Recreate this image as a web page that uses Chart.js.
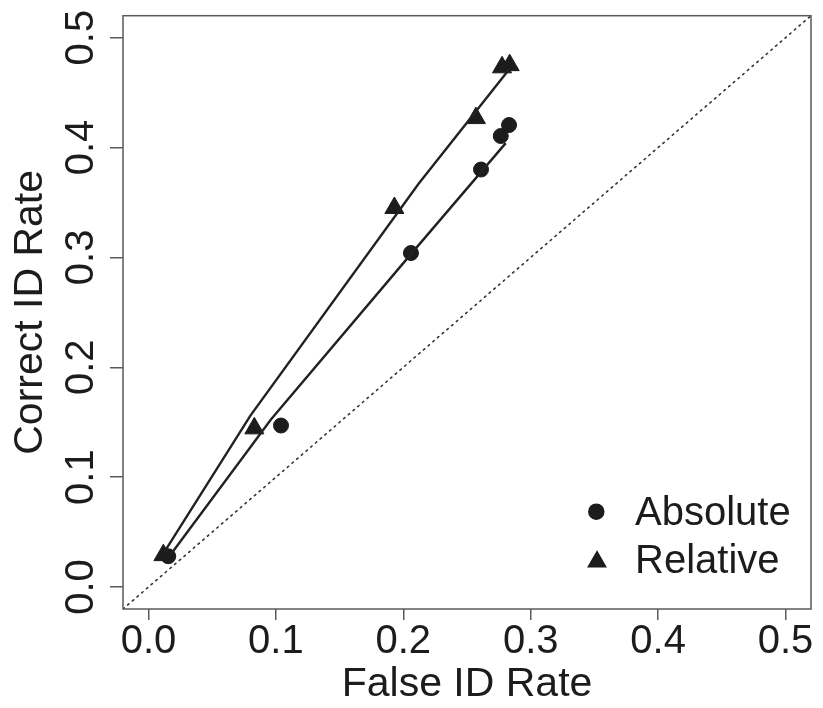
<!DOCTYPE html>
<html>
<head>
<meta charset="utf-8">
<style>
  html, body { margin: 0; padding: 0; background: #fff; }
  #wrap { width: 823px; height: 708px; }
</style>
<script src="https://cdn.jsdelivr.net/npm/chart.js@4.4.1/dist/chart.umd.min.js"></script>
</head>
<body>
<div id="wrap"><canvas id="roc" width="823" height="708"></canvas></div>
<script>
// Observed operating points (false ID rate, correct ID rate)
const absoluteFalseID   = [0.0155, 0.104, 0.206, 0.261, 0.2765, 0.283];
const absoluteCorrectID = [0.028, 0.147, 0.304, 0.380, 0.4105, 0.4205];
const relativeFalseID   = [0.0117, 0.0831, 0.193, 0.257, 0.2775, 0.2835];
const relativeCorrectID = [0.029, 0.1444, 0.345, 0.4268, 0.473, 0.475];

// Fitted ROC curves
const absoluteFitFalseID   = [0.017, 0.0961, 0.206, 0.2804];
const absoluteFitCorrectID = [0.029, 0.1525, 0.303, 0.404];
const relativeFitFalseID   = [0.012, 0.080, 0.212, 0.283];
const relativeFitCorrectID = [0.031, 0.156, 0.367, 0.471];

// Chance diagonal, spanning the whole plotting region
const chanceLine = [-0.02, 0.52];

const axisMin = -0.02;
const axisMax = 0.52;
const axisTicks = [0, 0.1, 0.2, 0.3, 0.4, 0.5];
const axisTickLabels = ['0.0', '0.1', '0.2', '0.3', '0.4', '0.5'];
const seriesNames = ['Absolute', 'Relative'];
const xTitle = 'False ID Rate';
const yTitle = 'Correct ID Rate';

const FONT = '"Liberation Sans", Arial, Helvetica, sans-serif';
const INK = '#1c1c1c';
const FRAME = '#5a5a5a';

const pairs = (xs, ys) => xs.map((x, i) => ({ x, y: ys[i] }));

// Full box around the plotting region plus the bottom-right key
const frameAndKey = {
  id: 'frameAndKey',
  afterDraw(chart) {
    const { ctx, chartArea: a } = chart;
    ctx.save();
    ctx.strokeStyle = FRAME;
    ctx.lineWidth = 1.5;
    ctx.strokeRect(a.left, a.top, a.right - a.left, a.bottom - a.top);

    const rows = [
      { style: 'circle', radius: 7.5, mx: a.right - 214.7, my: a.bottom - 97.3, ty: a.bottom - 84 },
      { style: 'triangle', radius: 10, mx: a.right - 214, my: a.bottom - 47.3, ty: a.bottom - 36.3 }
    ];
    ctx.fillStyle = INK;
    ctx.strokeStyle = INK;
    ctx.font = '40px ' + FONT;
    ctx.textAlign = 'left';
    ctx.textBaseline = 'alphabetic';
    rows.forEach((r, i) => {
      Chart.helpers.drawPoint(ctx, { pointStyle: r.style, radius: r.radius, rotation: 0, borderWidth: 1 }, r.mx, r.my);
      ctx.fillStyle = INK;
      ctx.fillText(seriesNames[i], a.right - 176, r.ty);
    });
    ctx.restore();
  }
};

const setTicks = (scale) => {
  scale.ticks = axisTicks.map(v => ({ value: v }));
};
const tickLabel = (v) => {
  const i = axisTicks.findIndex(t => Math.abs(t - v) < 1e-9);
  return i >= 0 ? axisTickLabels[i] : '';
};

new Chart(document.getElementById('roc'), {
  type: 'scatter',
  data: {
    datasets: [
      {
        label: 'Chance',
        data: pairs(chanceLine, chanceLine),
        showLine: true,
        borderColor: '#333',
        borderWidth: 1.6,
        borderDash: [1.6, 4.6],
        borderCapStyle: 'round',
        pointRadius: 0,
        fill: false
      },
      {
        label: seriesNames[0] + ' fit',
        data: pairs(absoluteFitFalseID, absoluteFitCorrectID),
        showLine: true,
        borderColor: '#222',
        borderWidth: 2.4,
        pointRadius: 0,
        tension: 0,
        fill: false
      },
      {
        label: seriesNames[1] + ' fit',
        data: pairs(relativeFitFalseID, relativeFitCorrectID),
        showLine: true,
        borderColor: '#222',
        borderWidth: 2.4,
        pointRadius: 0,
        tension: 0,
        fill: false
      },
      {
        label: seriesNames[0],
        data: pairs(absoluteFalseID, absoluteCorrectID),
        showLine: false,
        pointStyle: 'circle',
        pointRadius: 7.5,
        pointBackgroundColor: INK,
        pointBorderColor: INK,
        pointBorderWidth: 1
      },
      {
        label: seriesNames[1],
        data: pairs(relativeFalseID, relativeCorrectID),
        showLine: false,
        pointStyle: 'triangle',
        pointRadius: 11,
        pointBackgroundColor: INK,
        pointBorderColor: INK,
        pointBorderWidth: 1
      }
    ]
  },
  options: {
    responsive: false,
    animation: false,
    devicePixelRatio: 1,
    layout: { padding: { left: 0, right: 9, top: 15.7, bottom: 0 } },
    plugins: { legend: { display: false }, tooltip: { enabled: false } },
    scales: {
      x: {
        type: 'linear',
        min: axisMin,
        max: axisMax,
        afterBuildTicks: setTicks,
        afterFit: (s) => { s.height = 99; s.paddingLeft = 0; s.paddingRight = 0; },
        border: { display: false },
        grid: { drawOnChartArea: false, drawTicks: true, tickLength: 11, tickColor: FRAME, lineWidth: 1.5 },
        ticks: {
          autoSkip: false, maxRotation: 0, minRotation: 0,
          padding: 2,
          color: INK,
          font: { family: FONT, size: 40, lineHeight: 1 },
          callback: tickLabel
        },
        title: {
          display: true, text: xTitle, color: INK,
          font: { family: FONT, size: 41, lineHeight: 1 },
          padding: { top: 0, bottom: 2.5 }
        }
      },
      y: {
        type: 'linear',
        min: axisMin,
        max: axisMax,
        afterBuildTicks: setTicks,
        afterFit: (s) => { s.width = 123; s.paddingTop = 0; s.paddingBottom = 0; },
        border: { display: false },
        grid: { drawOnChartArea: false, drawTicks: true, tickLength: 13, tickColor: FRAME, lineWidth: 1.5 },
        ticks: {
          autoSkip: false, minRotation: 90, maxRotation: 90,
          crossAlign: 'center',
          padding: 0,
          color: INK,
          font: { family: FONT, size: 40, lineHeight: 1 },
          callback: tickLabel
        },
        title: {
          display: true, text: yTitle, color: INK,
          font: { family: FONT, size: 41, lineHeight: 1 },
          padding: { top: 10, bottom: 0 }
        }
      }
    }
  },
  plugins: [frameAndKey]
});
</script>
</body>
</html>
